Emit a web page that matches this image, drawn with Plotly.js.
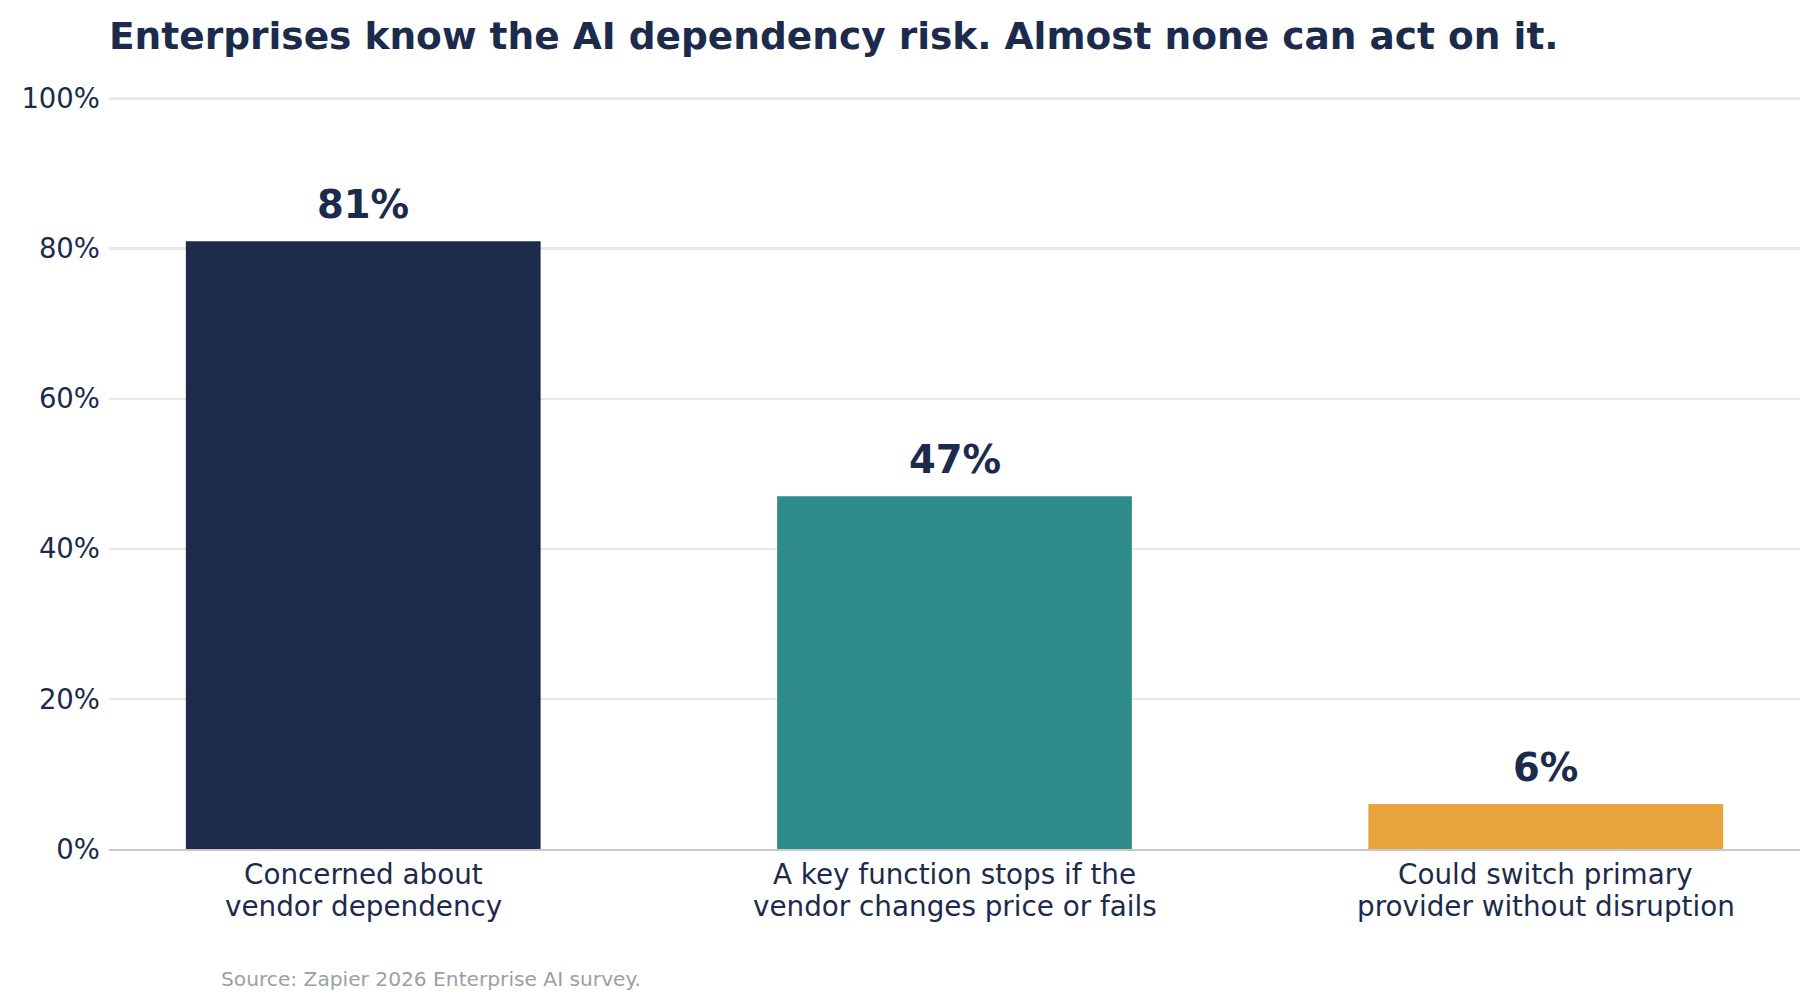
<!DOCTYPE html>
<html>
<head>
<meta charset="utf-8">
<script src="https://cdn.plot.ly/plotly-3.0.1.min.js"></script>
<style>
  html, body { margin: 0; padding: 0; background: #ffffff; }
  #chart { width: 1819px; height: 1008px; }
</style>
</head>
<body>
<div id="chart"></div>
<script>
// data
var categories = [
    "Concerned about<br>vendor dependency",
    "A key function stops if the<br>vendor changes price or fails",
    "Could switch primary<br>provider without disruption"
];
var shares = [81, 47, 6];
var barColors = ["#1c2b4b", "#2e8b8a", "#e8a33d"];
var yTicks = [0, 20, 40, 60, 80, 100];
var yTickText = ["0%", "20%", "40%", "60%", "80%", "100%"];

var navy = "#1c2b4b";
var fontFamily = "DejaVu Sans, sans-serif";

var data = [
    {
        type: "bar",
        x: categories,
        y: shares,
        width: 0.6,
        marker: { color: barColors, line: { width: 0 } },
        hoverinfo: "skip"
    }
];

// value labels above bars
var annotations = shares.map(function (v, i) {
    return {
        x: categories[i], y: v, xref: "x", yref: "y",
        text: "<b>" + v + "%</b>",
        showarrow: false,
        yanchor: "bottom",
        yshift: 12,
        font: { family: fontFamily, size: 38.5, color: navy }
    };
});

// category labels, one annotation per line so the line spacing stays tight
categories.forEach(function (c) {
    c.split("<br>").forEach(function (line, k) {
        annotations.push({
            x: c, y: 0, xref: "x", yref: "paper",
            text: line,
            showarrow: false,
            yanchor: "middle",
            yshift: -25 - k * 32.5,
            font: { family: fontFamily, size: 27.8, color: navy }
        });
    });
});

annotations.push({
    xref: "paper", yref: "paper",
    x: 0.0648, y: -0.172,
    xanchor: "left", yanchor: "middle",
    text: "Source: Zapier 2026 Enterprise AI survey.",
    showarrow: false,
    font: { family: fontFamily, size: 20.2, color: "#9aa0a6" }
});

var layout = {
    width: 1819,
    height: 1008,
    margin: { l: 109, r: 19, t: 96, b: 159 },
    paper_bgcolor: "#ffffff",
    plot_bgcolor: "#ffffff",
    showlegend: false,
    bargap: 0.4,
    title: {
        text: "<b>Enterprises know the AI dependency risk. Almost none can act on it.</b>",
        font: { family: fontFamily, size: 37.5, color: navy },
        xref: "paper", x: 0, xanchor: "left",
        yref: "container", y: 0.977, yanchor: "top"
    },
    xaxis: {
        type: "category",
        range: [-0.43, 2.43],
        showgrid: false,
        zeroline: false,
        showline: true,
        linecolor: "#c8c8c8",
        linewidth: 2,
        ticks: "",
        showticklabels: false,
        fixedrange: true
    },
    yaxis: {
        range: [0, 100.35],
        tickvals: yTicks,
        ticktext: yTickText,
        showgrid: true,
        gridcolor: "#e5e8ec",
        gridwidth: 2.5,
        zeroline: false,
        showline: false,
        ticks: "",
        ticklabelstandoff: 8,
        tickfont: { family: fontFamily, size: 27.5, color: navy },
        fixedrange: true
    },
    annotations: annotations
};

Plotly.newPlot("chart", data, layout, { displayModeBar: false, staticPlot: true });
</script>
</body>
</html>
